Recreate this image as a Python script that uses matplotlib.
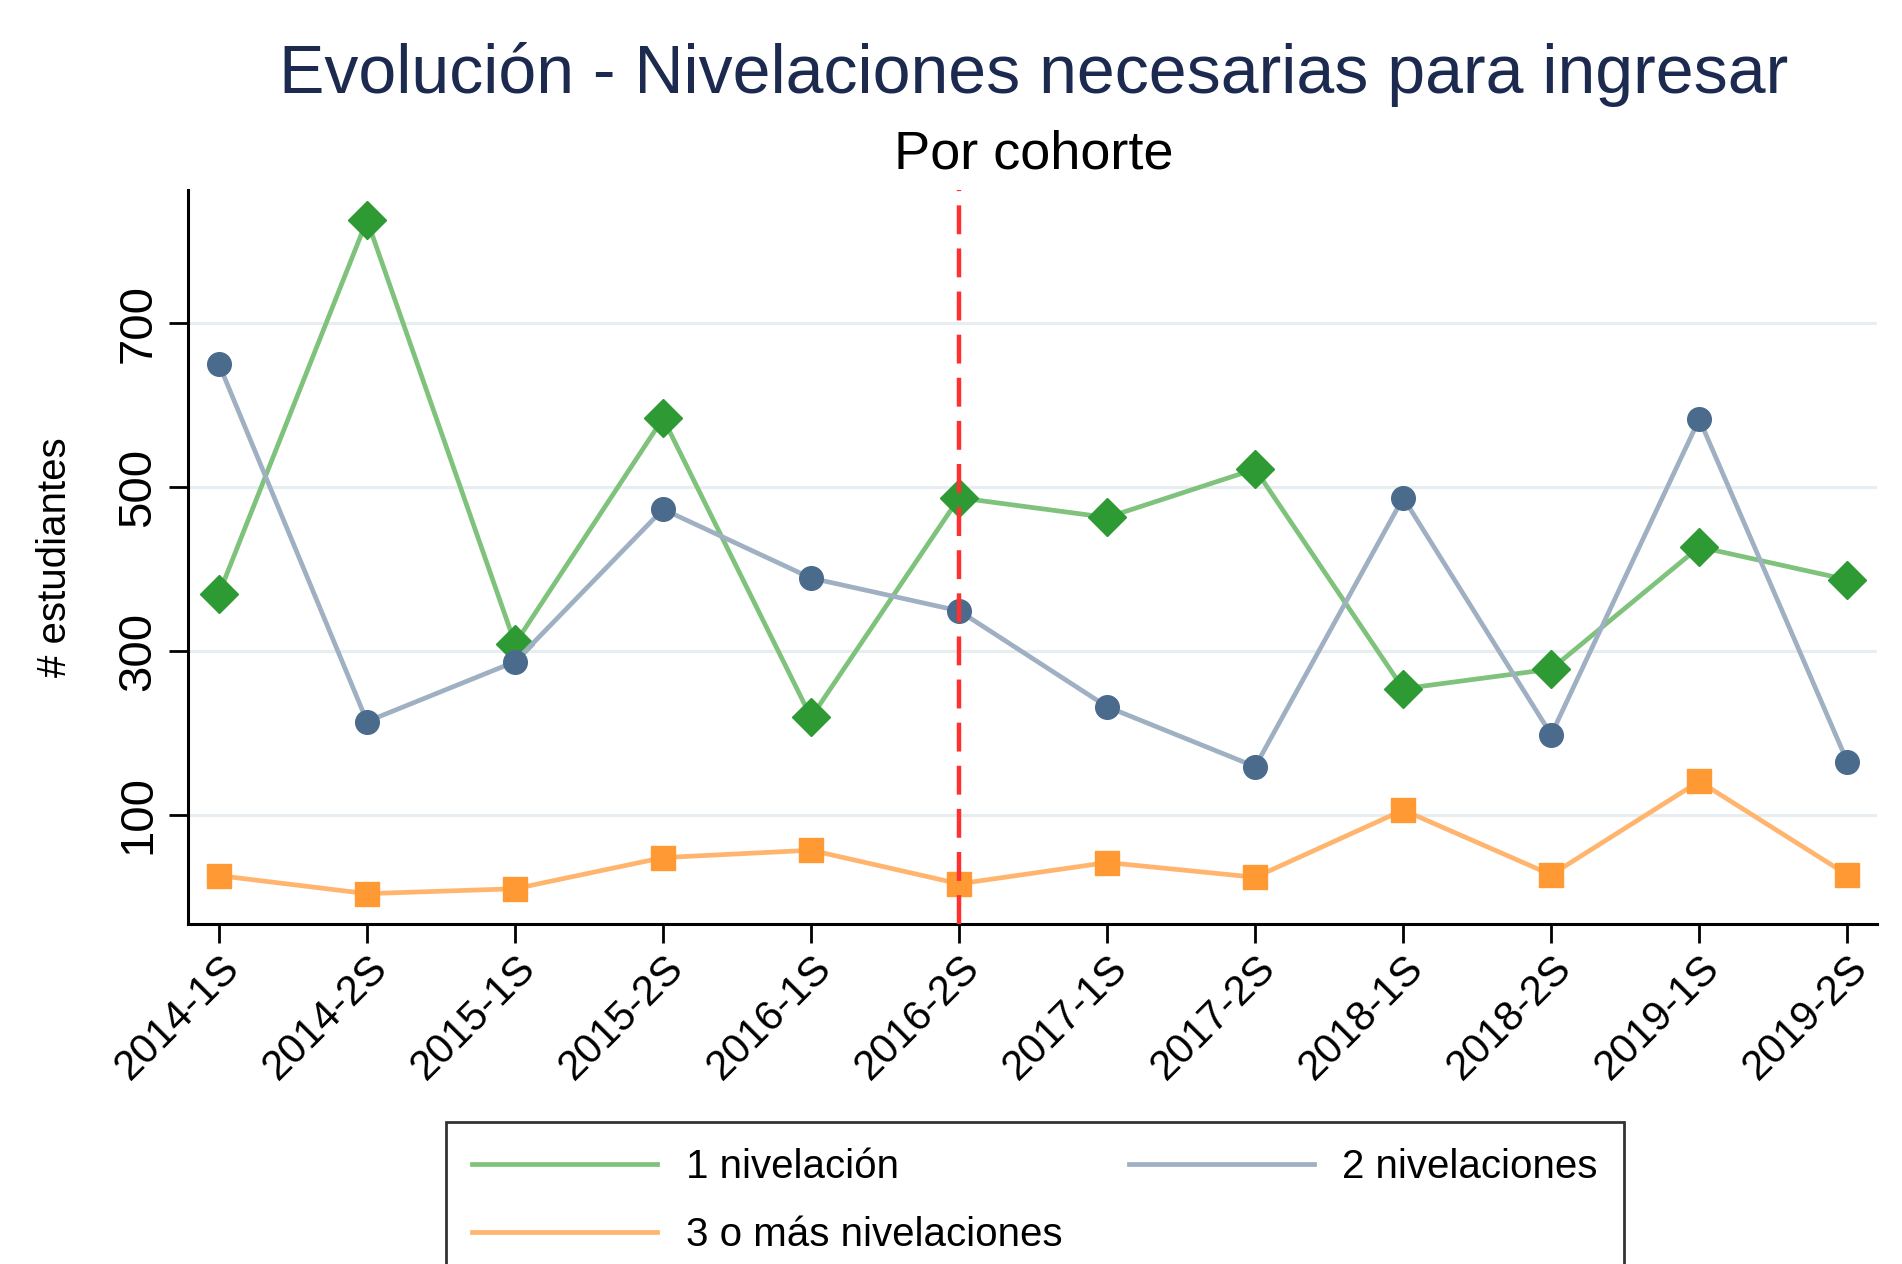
import matplotlib
matplotlib.use("Agg")
import matplotlib.pyplot as plt
from matplotlib.lines import Line2D

plt.rcParams["font.family"] = ["Liberation Sans", "DejaVu Sans"]

cohortes = ["2014-1S", "2014-2S", "2015-1S", "2015-2S", "2016-1S", "2016-2S",
            "2017-1S", "2017-2S", "2018-1S", "2018-2S", "2019-1S", "2019-2S"]
niv_1 = [370, 826, 309, 584, 219, 487, 463, 522, 254, 278, 427, 387]
niv_2 = [650, 214, 287, 473, 389, 349, 232, 159, 487, 198, 583, 165]
niv_3 = [26, 4, 10, 48, 57, 16, 42, 24, 106, 27, 141, 27]
corte = "2016-2S"
yticks = [100, 300, 500, 700]

x = list(range(len(cohortes)))

fig = plt.figure(figsize=(19.02, 12.64), dpi=100)
ax = fig.add_axes([0.0988, 0.269, 0.888, 0.581])

ax.plot(x, niv_1, color="#7fc27b", lw=3.4, marker="D", ms=19,
        mfc="#2e9a34", mec="#2e9a34", zorder=3)
ax.plot(x, niv_2, color="#9fb0c3", lw=3.4, marker="o", ms=17,
        mfc="#4a6b8c", mec="#4a6b8c", zorder=3)
ax.plot(x, niv_3, color="#ffb56e", lw=3.4, marker="s", ms=17,
        mfc="#ff9933", mec="#ff9933", zorder=3)

ax.axvline(cohortes.index(corte), color="#ff3030", lw=3.2,
           dashes=(6.5, 3.2), zorder=4)

ax.set_xlim(-0.21, 11.2)
ax.set_ylim(-33, 863)
ax.set_yticks(yticks)
ax.set_yticklabels([str(v) for v in yticks], rotation=90, va="center", fontsize=34)
ax.set_xticks(x)
ax.set_xticklabels(cohortes, rotation=45, ha="right", rotation_mode="anchor", fontsize=30)
ax.grid(axis="y", color="#e6eef1", lw=2.2)
ax.set_axisbelow(True)
ax.tick_params(length=14, width=2, pad=6)
ax.tick_params(axis="x", pad=3)
for s in ["top", "right"]:
    ax.spines[s].set_visible(False)
for s in ["left", "bottom"]:
    ax.spines[s].set_linewidth(2.2)

ax.set_ylabel("# estudiantes", fontsize=29, labelpad=30)

fig.text(0.5435, 0.941, "Evolución - Nivelaciones necesarias para ingresar",
         ha="center", va="center", fontsize=49, color="#1b2a4e")
fig.text(0.5435, 0.878, "Por cohorte", ha="center", va="center", fontsize=39)

h1 = Line2D([], [], color="#7fc27b", lw=3.4)
h2 = Line2D([], [], color="#9fb0c3", lw=3.4)
h3 = Line2D([], [], color="#ffb56e", lw=3.4)
leg = fig.legend([h1, h3, h2], ["1 nivelación", "3 o más nivelaciones", "2 nivelaciones"],
                 ncol=2, loc="upper left", bbox_to_anchor=(0.2345, 0.1123),
                 borderaxespad=0, fontsize=29, frameon=True, fancybox=False,
                 handlelength=4.6, handletextpad=0.7, columnspacing=1.65,
                 borderpad=0.65, labelspacing=0.75)
leg.get_frame().set_edgecolor("black")
leg.get_frame().set_linewidth(2)

fig.savefig("out.png", dpi=100)
